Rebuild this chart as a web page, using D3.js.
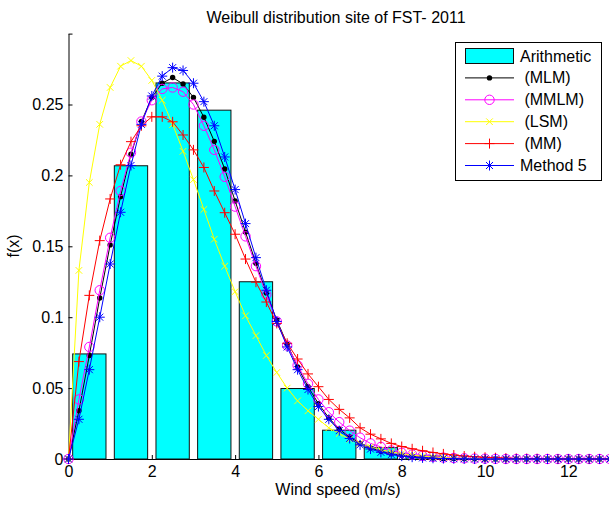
<!DOCTYPE html>
<html>
<head>
<meta charset="utf-8">
<script src="https://cdn.jsdelivr.net/npm/d3@7"></script>
<style>
    body { margin: 0; background: #fff; }
    svg text { font-family: "Liberation Sans", Arial, Helvetica, sans-serif; font-size: 16px; fill: #000; }
</style>
</head>
<body>
<div id="chart"></div>
<script>
// DATA
var windSpeed = [0, 0.25, 0.5, 0.75, 1, 1.25, 1.5, 1.75, 2, 2.25, 2.5, 2.75, 3, 3.25, 3.5, 3.75,
    4, 4.25, 4.5, 4.75, 5, 5.25, 5.5, 5.75, 6, 6.25, 6.5, 6.75, 7, 7.25, 7.5, 7.75,
    8, 8.25, 8.5, 8.75, 9, 9.25, 9.5, 9.75, 10, 10.25, 10.5, 10.75, 11, 11.25, 11.5, 11.75,
    12, 12.25, 12.5, 12.75, 13];

var binCenters = [0.5, 1.5, 2.5, 3.5, 4.5, 5.5, 6.5, 7.5, 8.5];
var binFreq = [0.0741, 0.2068, 0.2652, 0.246, 0.125, 0.0497, 0.0203, 0.008, 0.002];

var pdfMLM = [0, 0.034, 0.073, 0.1135, 0.151, 0.185, 0.215, 0.238, 0.255, 0.265, 0.269, 0.2645,
    0.255, 0.241, 0.224, 0.2045, 0.182, 0.160, 0.138, 0.117, 0.098, 0.081, 0.065, 0.051,
    0.039, 0.029, 0.021, 0.0155, 0.011, 0.0078, 0.0054, 0.0037, 0.0025, 0.0016, 0.001, 0.0007,
    0.0004, 0.0003, 0.0002, 0.0001, 0, 0, 0, 0, 0, 0, 0, 0, 0, 0, 0, 0, 0];

var pdfMMLM = [0, 0.042, 0.079, 0.119, 0.156, 0.189, 0.216, 0.238, 0.253, 0.261, 0.262, 0.259,
    0.250, 0.235, 0.218, 0.199, 0.178, 0.157, 0.136, 0.116, 0.097, 0.080, 0.066, 0.053,
    0.042, 0.033, 0.026, 0.020, 0.015, 0.011, 0.0085, 0.006, 0.0044, 0.0031, 0.0022, 0.0015,
    0.001, 0.0007, 0.0005, 0.0003, 0.0002, 0.0001, 0, 0, 0, 0, 0, 0, 0, 0, 0, 0, 0];

var pdfLSM = [0, 0.133, 0.195, 0.236, 0.262, 0.277, 0.281, 0.277, 0.267, 0.253, 0.236, 0.217,
    0.197, 0.176, 0.155, 0.136, 0.118, 0.101, 0.087, 0.073, 0.061, 0.050, 0.041, 0.034,
    0.028, 0.022, 0.018, 0.014, 0.011, 0.0085, 0.0065, 0.005, 0.0038, 0.0028, 0.002, 0.0015,
    0.001, 0.0007, 0.0005, 0.0003, 0.0002, 0.0001, 0, 0, 0, 0, 0, 0, 0, 0, 0, 0, 0];

var pdfMM = [0, 0.0687, 0.1154, 0.154, 0.1834, 0.2075, 0.2238, 0.235, 0.2413, 0.2413, 0.2378, 0.2285,
    0.218, 0.2056, 0.189, 0.1737, 0.1585, 0.141, 0.1247, 0.1107, 0.0956, 0.0816, 0.0705, 0.060,
    0.051, 0.042, 0.035, 0.029, 0.022, 0.0175, 0.0142, 0.011, 0.0088, 0.0072, 0.0058, 0.0046,
    0.0036, 0.0028, 0.0021, 0.0016, 0.0012, 0.0009, 0.0006, 0.0004, 0.0003, 0.0002, 0.0001,
    0, 0, 0, 0, 0, 0];

var pdfMethod5 = [0, 0.028, 0.063, 0.100, 0.1375, 0.174, 0.207, 0.236, 0.256, 0.270, 0.276, 0.274,
    0.265, 0.252, 0.235, 0.213, 0.190, 0.166, 0.142, 0.119, 0.097, 0.079, 0.063, 0.049,
    0.037, 0.028, 0.020, 0.0145, 0.010, 0.007, 0.0047, 0.0031, 0.002, 0.0013, 0.0008, 0.0005,
    0.0003, 0.0002, 0.0001, 0, 0, 0, 0, 0, 0, 0, 0, 0, 0, 0, 0, 0, 0];

var seriesNames = [' (MLM)', ' (MMLM)', ' (LSM)', ' (MM)', 'Method 5'];
var barName = 'Arithmetic';

var xTicks = [0, 2, 4, 6, 8, 10, 12];
var yTicks = [0, 0.05, 0.1, 0.15, 0.2, 0.25];
var yTickLabels = ['0', '0.05', '0.1', '0.15', '0.2', '0.25'];

var titleText = 'Weibull distribution site of FST- 2011';
var xLabelText = 'Wind speed (m/s)';
var yLabelText = 'f(x)';

// SETUP
var width = 609,
    height = 506;

var series = [
    { name: seriesNames[0], values: pdfMLM, color: '#000000', marker: 'dot' },
    { name: seriesNames[1], values: pdfMMLM, color: '#ff00ff', marker: 'circle' },
    { name: seriesNames[2], values: pdfLSM, color: '#ffff00', marker: 'x' },
    { name: seriesNames[3], values: pdfMM, color: '#ff0000', marker: 'plus' },
    { name: seriesNames[4], values: pdfMethod5, color: '#0000ff', marker: 'star' }
];

var svg = d3.select('#chart')
    .append('svg')
    .attr('width', width)
    .attr('height', height);

var xScale = d3.scaleLinear()
    .domain([0, 13])
    .range([68.5, 610]);

var yScale = d3.scaleLinear()
    .domain([0, 0.3])
    .range([459, 33.6]);

// Axes (drawn under the data, like matlab's default layer)
svg.append('g')
    .attr('transform', 'translate(0,' + yScale(0) + ')')
    .call(d3.axisBottom(xScale)
        .tickValues(xTicks)
        .tickFormat(d3.format('d'))
        .tickSizeInner(-4)
        .tickSizeOuter(0)
        .tickPadding(7));

svg.append('g')
    .attr('transform', 'translate(' + xScale(0) + ',0)')
    .call(d3.axisLeft(yScale)
        .tickValues(yTicks)
        .tickFormat(function (d, i) { return yTickLabels[i]; })
        .tickSizeInner(-4)
        .tickSizeOuter(0)
        .tickPadding(5));

svg.selectAll('.domain, .tick line')
    .attr('stroke', '#000')
    .attr('stroke-width', 1);
svg.selectAll('.tick text')
    .attr('font-size', null)
    .attr('font-family', null);

// small stub at top left corner
svg.append('line')
    .attr('x1', xScale(0)).attr('y1', yScale(0.3) + 0.5)
    .attr('x2', xScale(0) + 4).attr('y2', yScale(0.3) + 0.5)
    .attr('stroke', '#000');

// Histogram bars
var barHalf = 0.4;
svg.append('g')
    .selectAll('rect')
    .data(binFreq)
    .enter()
    .append('rect')
    .attr('x', function (d, i) { return xScale(binCenters[i] - barHalf); })
    .attr('y', function (d) { return yScale(d); })
    .attr('width', function (d, i) { return xScale(binCenters[i] + barHalf) - xScale(binCenters[i] - barHalf); })
    .attr('height', function (d) { return yScale(0) - yScale(d); })
    .attr('fill', '#00ffff')
    .attr('stroke', '#111')
    .attr('stroke-width', 1);

// Markers
function drawMarker(g, type, color) {
    if (type === 'dot') {
        g.append('circle').attr('r', 2.7).attr('fill', color);
    } else if (type === 'circle') {
        g.append('circle').attr('r', 4.7).attr('fill', 'none').attr('stroke', color).attr('stroke-width', 1);
    } else if (type === 'x') {
        g.append('path').attr('d', 'M-3.3,-3.3L3.3,3.3M-3.3,3.3L3.3,-3.3').attr('stroke', color).attr('stroke-width', 1);
    } else if (type === 'plus') {
        g.append('path').attr('d', 'M-5,0L5,0M0,-5L0,5').attr('stroke', color).attr('stroke-width', 1);
    } else if (type === 'star') {
        g.append('path').attr('d', 'M-5,0L5,0M0,-5L0,5M-3.5,-3.5L3.5,3.5M-3.5,3.5L3.5,-3.5')
            .attr('stroke', color).attr('stroke-width', 1);
    }
}

var line = d3.line()
    .x(function (d, i) { return xScale(windSpeed[i]); })
    .y(function (d) { return yScale(d); });

series.forEach(function (s) {
    var g = svg.append('g');
    g.append('path')
        .attr('d', line(s.values))
        .attr('fill', 'none')
        .attr('stroke', s.color)
        .attr('stroke-width', 1);

    g.selectAll('g.mk')
        .data(s.values)
        .enter()
        .append('g')
        .attr('class', 'mk')
        .attr('transform', function (d, i) {
            return 'translate(' + xScale(windSpeed[i]) + ',' + yScale(d) + ')';
        })
        .each(function () { drawMarker(d3.select(this), s.marker, s.color); });
});

// Title and axis labels
svg.append('text')
    .attr('x', 336)
    .attr('y', 23)
    .attr('text-anchor', 'middle')
    .text(titleText);

svg.append('text')
    .attr('x', 338)
    .attr('y', 495)
    .attr('text-anchor', 'middle')
    .text(xLabelText);

svg.append('text')
    .attr('transform', 'translate(19, 246)rotate(-90)')
    .attr('text-anchor', 'middle')
    .text(yLabelText);

// Legend
var legend = svg.append('g');
legend.append('rect')
    .attr('x', 455.5)
    .attr('y', 42.5)
    .attr('width', 146)
    .attr('height', 138)
    .attr('fill', '#fff')
    .attr('stroke', '#000');

var rowY = d3.scaleLinear().domain([0, 1]).range([56, 77.9]);

legend.append('rect')
    .attr('x', 465.5)
    .attr('y', rowY(0) - 7.5)
    .attr('width', 48)
    .attr('height', 15)
    .attr('fill', '#00ffff')
    .attr('stroke', '#111');

legend.append('text')
    .attr('x', 520)
    .attr('y', rowY(0) + 5.5)
    .text(barName);

series.forEach(function (s, i) {
    var y = rowY(i + 1);
    legend.append('line')
        .attr('x1', 465).attr('x2', 514)
        .attr('y1', y).attr('y2', y)
        .attr('stroke', s.color);
    var mk = legend.append('g').attr('transform', 'translate(489.5,' + y + ')');
    drawMarker(mk, s.marker, s.color);
    legend.append('text')
        .attr('x', 520)
        .attr('y', y + 5.5)
        .style('white-space', 'pre')
        .text(s.name);
});
</script>
</body>
</html>
